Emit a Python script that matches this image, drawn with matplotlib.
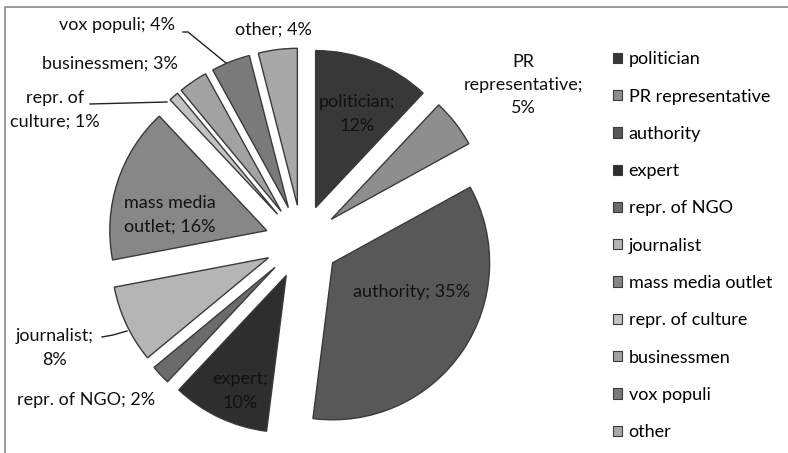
import matplotlib
matplotlib.use("Agg")
import matplotlib.pyplot as plt
from matplotlib.patches import Patch

# data -----------------------------------------------------------------
categories = ["politician", "PR representative", "authority", "expert",
              "repr. of NGO", "journalist", "mass media outlet",
              "repr. of culture", "businessmen", "vox populi", "other"]
shares = [12, 5, 35, 10, 2, 8, 16, 1, 3, 4, 4]
slice_labels = ["politician;\n12%", "PR\nrepresentative;\n5%", "authority; 35%",
                "expert;\n10%", "repr. of NGO; 2%", "journalist;\n8%",
                "mass media\noutlet; 16%", "repr. of\nculture; 1%",
                "businessmen; 3%", "vox populi; 4%", "other; 4%"]

# style ----------------------------------------------------------------
colors = ["#383838", "#8e8e8e", "#585858", "#2e2e2e", "#6b6b6b", "#b5b5b5",
          "#878787", "#c2c2c2", "#a2a2a2", "#7a7a7a", "#a8a8a8"]
# label anchor (pixel coords, y from top) and leader lines
label_pos = [(357, 114), (523, 85), (412, 292), (240, 391), (86, 400),
             (55, 348), (170, 215), (55, 110), (110, 64), (117, 25), (273, 30)]
leaders = {9: [(183, 32), (188, 32), (226, 63)], 7: [(90, 104), (167, 102)],
           5: [(102, 337), (113, 335), (127, 331)]}

W, H = 788, 453
plt.rcParams["font.family"] = ["Lato", "DejaVu Sans"]
fig = plt.figure(figsize=(W / 100, H / 100), dpi=100)
ax = fig.add_axes([0, 0, 1, 1])

wedges, _ = ax.pie(shares, colors=colors, startangle=90, counterclock=False,
                   center=(302, H - 242), radius=157, explode=[37] * len(shares),
                   frame=True,
                   wedgeprops=dict(edgecolor="#3a3a3a", linewidth=1.0))
ax.set_xlim(0, W)
ax.set_ylim(0, H)
ax.set_aspect("equal")
ax.axis("off")

for i, (txt, (x, y)) in enumerate(zip(slice_labels, label_pos)):
    ax.text(x, H - y, txt, ha="center", va="center", fontsize=13,
            color="#111111", linespacing=1.55)
for i, pts in leaders.items():
    ax.plot([p[0] for p in pts], [H - p[1] for p in pts], color="#222222", lw=1)

# frame (left and top edges visible)
ax.plot([5.5, 5.5, W], [0, H - 6.5, H - 6.5], color="#8a8a8a", lw=1.2)

handles = [Patch(facecolor=c, edgecolor="#3a3a3a", linewidth=0.8) for c in colors]
fig.legend(handles, categories, loc="upper left", bbox_to_anchor=(606 / W, 1 - 44 / H),
           frameon=False, fontsize=13, handlelength=0.5, handleheight=0.5,
           handletextpad=0.35, labelspacing=1.18, borderaxespad=0)

fig.savefig("out.png", dpi=100)
